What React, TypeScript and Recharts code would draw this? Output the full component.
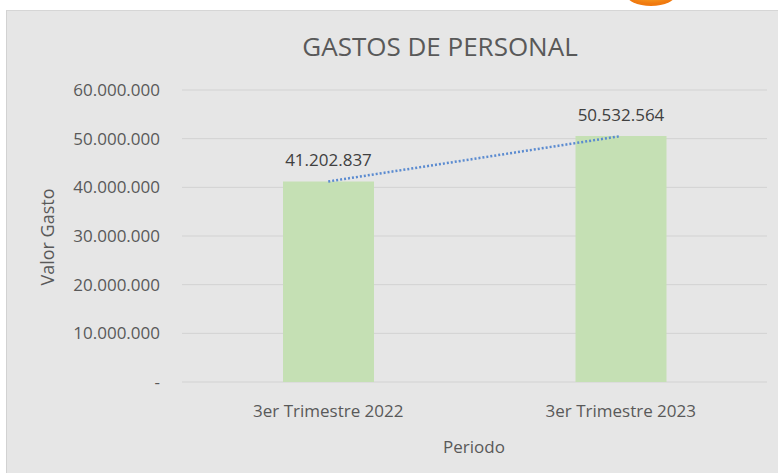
import { ComposedChart, Bar, Line, XAxis, YAxis, CartesianGrid, LabelList } from 'recharts';

const periodos = ['3er Trimestre 2022', '3er Trimestre 2023'];
const gastos = [41202837, 50532564];
const yTicks = [0, 10000000, 20000000, 30000000, 40000000, 50000000, 60000000];

const data = periodos.map((p, i) => ({ periodo: p, gasto: gastos[i] }));

const FONT = '"Open Sans", "Liberation Sans", sans-serif';
const TEXT = '#595959';

const fmt = (v: number) => (v === 0 ? '-' : String(v).replace(/\B(?=(\d{3})+(?!\d))/g, '.'));

export default function App() {
  return (
    <div style={{ position: 'absolute', left: 0, top: 0, width: 778, height: 473, background: '#fff', overflow: 'hidden' }}>
      <div
        style={{
          position: 'absolute',
          left: 6,
          top: 10,
          width: 772,
          height: 463,
          background: '#e6e6e6',
          borderTop: '1px solid #d6d6d6',
          borderLeft: '1px solid #d2d2d2',
        }}
      />
      <div style={{ position: 'absolute', left: 0, top: 0 }}>
        <ComposedChart width={778} height={473} data={data} margin={{ top: 90, right: 11, bottom: 31, left: 82 }}>
          <CartesianGrid vertical={false} stroke="#d2d2d2" />
          <XAxis
            dataKey="periodo"
            height={60}
            axisLine={false}
            tickLine={false}
            tickMargin={17}
            tick={{ fontFamily: FONT, fontSize: 17, fill: TEXT }}
          />
          <YAxis
            width={100}
            domain={[0, 60000000]}
            ticks={yTicks}
            axisLine={false}
            tickLine={false}
            tickMargin={16}
            tickFormatter={fmt}
            tick={{ fontFamily: FONT, fontSize: 17, fill: TEXT }}
          />
          <Bar dataKey="gasto" fill="#c5e0b4" barSize={91} isAnimationActive={false}>
            <LabelList
              dataKey="gasto"
              position="top"
              offset={15}
              formatter={(v: any) => fmt(Number(v))}
              style={{ fontFamily: FONT, fontSize: 17, fill: '#404040' }}
            />
          </Bar>
          <Line
            dataKey="gasto"
            type="linear"
            stroke="#5b8bd0"
            strokeWidth={2.5}
            strokeDasharray="2 2"
            dot={false}
            activeDot={false}
            isAnimationActive={false}
          />
        </ComposedChart>
      </div>
      <svg width={778} height={473} style={{ position: 'absolute', left: 0, top: 0, pointerEvents: 'none' }}>
        <defs>
          <radialGradient id="logo" cx="50%" cy="30%" r="60%">
            <stop offset="0%" stopColor="#ffd23a" />
            <stop offset="100%" stopColor="#f07a10" />
          </radialGradient>
        </defs>
        <ellipse cx={651} cy={-6} rx={25} ry={12} fill="url(#logo)" />
        <text x={440} y={56} textAnchor="middle" fontFamily={FONT} fontSize={26} fill={TEXT}>
          GASTOS DE PERSONAL
        </text>
        <text x={474} y={453} textAnchor="middle" fontFamily={FONT} fontSize={17} fill={TEXT}>
          Periodo
        </text>
        <text transform="translate(54,237) rotate(-90)" textAnchor="middle" fontFamily={FONT} fontSize={18} fill={TEXT}>
          Valor Gasto
        </text>
      </svg>
    </div>
  );
}
